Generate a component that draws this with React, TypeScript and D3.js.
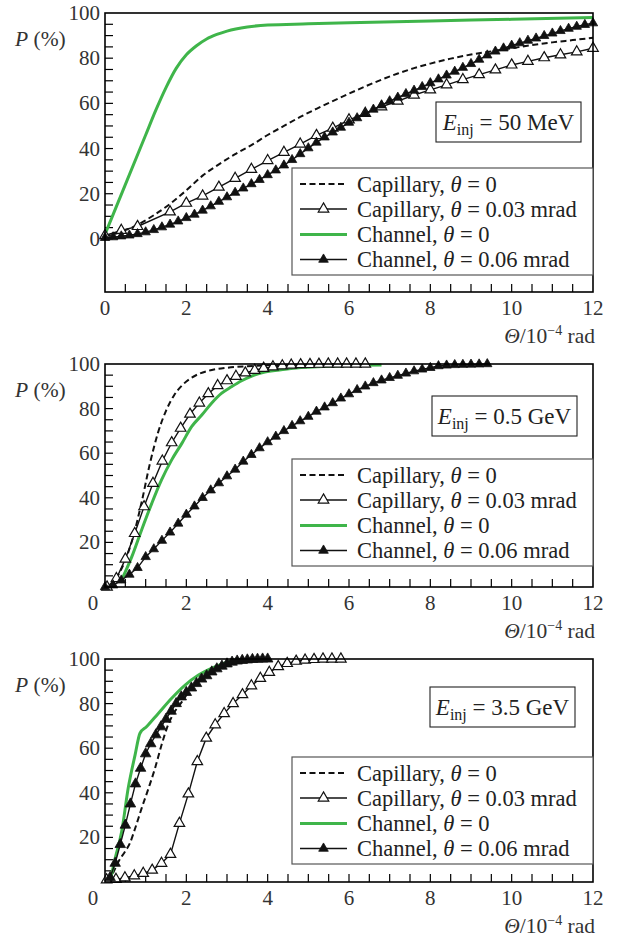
import React from 'react';
import * as d3 from 'd3';

type Pt = [number, number];

const GREEN = '#3fb54a';
const FONT = '"Liberation Serif", "DejaVu Serif", serif';

const X_MAJOR = [0, 2, 4, 6, 8, 10, 12];
const Y_MAJOR = [0, 20, 40, 60, 80, 100];

// ---------- Panel 1: E_inj = 50 MeV ----------
const p1CapillaryFlat: Pt[] = [[0,1],[0.4,3.2],[0.8,6.2],[1.2,10.5],[1.6,15.5],[2,21.5],[2.4,28],[2.8,33],[3.2,37.5],[3.6,41.5],[4,46],[4.4,50],[4.8,54],[5.2,57.6],[5.6,61],[6,64.3],[6.4,67.5],[6.8,70.5],[7.2,73.2],[7.6,75.6],[8,77.6],[8.5,79.8],[9,81.6],[9.5,83],[10,84.4],[10.5,85.8],[11,87],[11.5,88],[12,89]];
const p1CapillaryTilt: Pt[] = [[0,1.5],[0.4,3.8],[0.8,5.5],[1.6,12],[2,15.8],[2.4,19],[2.8,22.9],[3.2,26.8],[3.6,30.8],[4,34.7],[4.4,38.3],[4.8,42],[5.2,45.8],[5.6,49],[6,52.7],[6.4,55.6],[6.8,58.5],[7.2,61],[7.6,63.7],[8,66],[8.4,68.2],[8.8,70.5],[9.2,72.7],[9.6,74.8],[10,77],[10.4,78.6],[10.8,80.2],[11.2,81.5],[11.6,82.8],[12,84.4]];
const p1ChannelFlat: Pt[] = [[0,2],[0.5,24],[1,46],[1.25,57],[1.5,67],[1.75,75.5],[2,81.5],[2.25,85.5],[2.5,88.5],[2.75,90.5],[3,92],[3.5,93.8],[4,94.7],[5,95.2],[6,95.7],[8,96.5],[10,97.2],[12,98]];
const p1ChannelTilt: Pt[] = [[0,0.5],[0.2,0.8],[0.4,1.2],[0.6,1.6],[0.8,2.2],[1,3],[1.2,4],[1.4,5.2],[1.6,6.4],[1.8,7.8],[2,9.3],[2.2,10.8],[2.4,12.6],[2.6,14.5],[2.8,16.5],[3,18.5],[3.2,20.5],[3.4,22.4],[3.6,24.3],[3.8,26.2],[4,28.3],[4.2,30.4],[4.4,32.6],[4.6,35],[4.8,37.6],[5,40.2],[5.2,42.7],[5.4,45],[5.6,47.2],[5.8,49.3],[6,51.5],[6.2,53.5],[6.4,55.4],[6.6,57.3],[6.8,59.2],[7,61],[7.2,62.6],[7.4,64.2],[7.6,65.7],[7.8,67.3],[8,69],[8.2,70.7],[8.4,72.4],[8.6,74.1],[8.8,75.8],[9,77.5],[9.2,79.4],[9.4,81.3],[9.6,83],[9.8,84.4],[10,85.6],[10.2,86.7],[10.4,87.8],[10.6,88.8],[10.8,89.9],[11,91],[11.2,92.1],[11.4,93.1],[11.6,94],[11.8,94.8],[12,95.5]];

// ---------- Panel 2: E_inj = 0.5 GeV ----------
const p2CapillaryFlat: Pt[] = [[0.15,0],[0.3,4.5],[0.5,12],[0.7,23],[0.9,38],[1.1,55],[1.3,69],[1.5,79],[1.7,86],[1.9,90.5],[2.1,93.5],[2.3,95.5],[2.6,97.2],[3,98.3],[3.5,99],[4,99.4],[5,99.7],[6.4,100]];
const p2CapillaryTilt: Pt[] = [[0.05,0],[0.28,3.8],[0.5,12.5],[0.73,24],[0.96,36],[1.18,46.5],[1.41,56.5],[1.64,64.7],[1.86,71.2],[2.09,77.5],[2.32,82.5],[2.54,86.7],[2.77,90.3],[3,92.5],[3.22,94.5],[3.45,96],[3.68,97.2],[3.9,98.1],[4.13,98.7],[4.36,99.2],[4.58,99.5],[4.81,99.7],[5.04,99.8],[5.26,99.9],[5.49,100],[5.72,100],[5.94,100],[6.17,100],[6.4,100]];
const p2ChannelFlat: Pt[] = [[0.38,2],[0.66,13.6],[0.9,25.6],[1.15,37.5],[1.39,48],[1.64,57],[1.89,64.4],[2.13,71.9],[2.38,77.1],[2.62,82.4],[2.87,86.9],[3.11,89.8],[3.36,92.5],[3.61,94.6],[3.93,96.4],[4.43,97.6],[4.92,98.5],[5.5,99],[6.2,99.4],[6.8,99.6]];
const p2ChannelTilt: Pt[] = [[0,0],[0.2,0.8],[0.4,3],[0.6,5.6],[0.8,8.6],[1,13.5],[1.2,17],[1.4,20.8],[1.6,24.5],[1.8,28.5],[2,32.5],[2.2,36.2],[2.4,40],[2.6,43.4],[2.8,46.6],[3,49.7],[3.2,52.7],[3.4,56.3],[3.6,59.3],[3.8,62.3],[4,65],[4.2,67.5],[4.4,70],[4.6,72.3],[4.8,74.4],[5,76.4],[5.2,78.7],[5.4,80.6],[5.6,82.5],[5.8,84.6],[6,86.5],[6.2,88.4],[6.4,90],[6.6,91.5],[6.8,92.7],[7,93.8],[7.2,94.8],[7.4,95.8],[7.6,96.8],[7.8,97.6],[8,98.3],[8.2,99.1],[8.4,99.4],[8.6,99.6],[8.8,99.7],[9,99.8],[9.2,99.9],[9.4,100]];

// ---------- Panel 3: E_inj = 3.5 GeV ----------
const p3CapillaryFlat: Pt[] = [[0.1,0],[0.16,2.4],[0.33,9.1],[0.49,13.6],[0.61,17.3],[0.74,24],[0.9,33],[1.07,42],[1.23,51],[1.39,61.4],[1.52,68.9],[1.64,74],[1.89,80.8],[2.13,86.9],[2.46,92],[2.79,96],[3.11,98.8],[3.44,100]];
const p3CapillaryTilt: Pt[] = [[0.04,1],[0.27,1.2],[0.49,1.9],[0.72,2.8],[0.94,3.9],[1.16,5.3],[1.39,8.4],[1.61,12.4],[1.83,26.3],[2.05,39.5],[2.27,54],[2.49,64.5],[2.71,70.5],[2.93,75.5],[3.15,80],[3.38,84],[3.6,88],[3.82,91.3],[4.04,94],[4.26,96.6],[4.48,98],[4.7,99],[4.92,99.5],[5.14,99.8],[5.36,100],[5.58,100],[5.8,100]];
const p3ChannelFlat: Pt[] = [[0.12,0],[0.25,10.6],[0.41,22.6],[0.57,42],[0.74,57],[0.86,66.7],[1.02,69.6],[1.31,75.6],[1.64,82.4],[1.97,88.3],[2.3,92.8],[2.7,96.5],[3.11,99.1],[3.3,100]];
const p3ChannelTilt: Pt[] = [[0.125,2],[0.25,8.4],[0.375,16.8],[0.5,25.5],[0.625,35],[0.75,44],[0.875,51],[1,57.5],[1.125,62],[1.25,66],[1.375,69.6],[1.5,73],[1.625,76.6],[1.75,80],[1.875,83],[2,85],[2.125,87],[2.25,89],[2.375,91],[2.5,92.5],[2.625,94.2],[2.75,95.6],[2.875,96.8],[3,97.8],[3.125,98.6],[3.25,99.1],[3.375,99.4],[3.5,99.6],[3.625,99.8],[3.75,99.9],[3.875,100],[4,100]];

const LEGEND_LABELS = [
  ['Capillary, ', ' = 0'],
  ['Capillary, ', ' = 0.03 mrad'],
  ['Channel, ', ' = 0'],
  ['Channel, ', ' = 0.06 mrad'],
];

const ENERGY_LABELS = ['50 MeV', '0.5 GeV', '3.5 GeV'];

interface PanelCfg {
  top: number; bottom: number; yMin: number;
  capFlat: Pt[]; capTilt: Pt[]; chFlat: Pt[]; chTilt: Pt[];
  energy: string; legendTop: number; boxRight: number; boxTop: number; zeroOnY: boolean; filledSize: number;
}

const PANELS: PanelCfg[] = [
  { top: 13, bottom: 292, yMin: -23.5, capFlat: p1CapillaryFlat, capTilt: p1CapillaryTilt, chFlat: p1ChannelFlat, chTilt: p1ChannelTilt, energy: ENERGY_LABELS[0], legendTop: 168, boxRight: 581, boxTop: 102, zeroOnY: true, filledSize: 38 },
  { top: 364, bottom: 587, yMin: 0, capFlat: p2CapillaryFlat, capTilt: p2CapillaryTilt, chFlat: p2ChannelFlat, chTilt: p2ChannelTilt, energy: ENERGY_LABELS[1], legendTop: 459, boxRight: 577, boxTop: 396, zeroOnY: false, filledSize: 38 },
  { top: 659, bottom: 882, yMin: 0, capFlat: p3CapillaryFlat, capTilt: p3CapillaryTilt, chFlat: p3ChannelFlat, chTilt: p3ChannelTilt, energy: ENERGY_LABELS[2], legendTop: 757, boxRight: 575, boxTop: 687, zeroOnY: false, filledSize: 48 },
];

const LEFT = 105;
const RIGHT = 593;
const OPEN_SIZE = 48;

const triOpen = d3.symbol().type(d3.symbolTriangle).size(OPEN_SIZE)() as string;
const triLegendFilled = d3.symbol().type(d3.symbolTriangle).size(40)() as string;

function Panel({ cfg }: { cfg: PanelCfg }) {
  const x = d3.scaleLinear().domain([0, 12]).range([LEFT, RIGHT]);
  const y = d3.scaleLinear().domain([cfg.yMin, 100]).range([cfg.bottom, cfg.top]);
  const smooth = d3.line<Pt>().x(d => x(d[0])).y(d => y(d[1])).curve(d3.curveMonotoneX);
  const straight = d3.line<Pt>().x(d => x(d[0])).y(d => y(d[1]));
  const triFilled = d3.symbol().type(d3.symbolTriangle).size(cfg.filledSize)() as string;

  const xMinor = d3.range(0.5, 12, 0.5);
  const yMinor = d3.range(5, 100, 5);

  const lx = 300, lx2 = 347, tx = 357;
  const rowDy = [16, 41, 66.5, 91.5];
  const boxW = 145, boxH = 40;

  return (
    <g>
      {xMinor.map(v => (
        <line key={'xt' + v} x1={x(v)} x2={x(v)} y1={cfg.bottom} y2={cfg.bottom - 8} stroke="#000" strokeWidth={1.2} />
      ))}
      {yMinor.map(v => (
        <line key={'yt' + v} x1={LEFT} x2={LEFT + 8} y1={y(v)} y2={y(v)} stroke="#000" strokeWidth={1.2} />
      ))}
      {cfg.zeroOnY && <line x1={LEFT} x2={LEFT + 8} y1={y(0)} y2={y(0)} stroke="#000" strokeWidth={1.2} />}

      <path d={smooth(cfg.capFlat) || ''} fill="none" stroke="#111" strokeWidth={2} strokeDasharray="6,3.5" />
      <path d={smooth(cfg.chFlat) || ''} fill="none" stroke={GREEN} strokeWidth={3} />
      <path d={straight(cfg.capTilt) || ''} fill="none" stroke="#111" strokeWidth={1.4} />
      {cfg.capTilt.map((d, i) => (
        <path key={'o' + i} d={triOpen} transform={`translate(${x(d[0])},${y(d[1])})`} fill="#fff" stroke="#111" strokeWidth={1.2} />
      ))}
      <path d={straight(cfg.chTilt) || ''} fill="none" stroke="#111" strokeWidth={1.4} />
      {cfg.chTilt.map((d, i) => (
        <path key={'f' + i} d={triFilled} transform={`translate(${x(d[0])},${y(d[1])})`} fill="#111" stroke="#111" strokeWidth={0.8} />
      ))}

      <rect x={LEFT} y={cfg.top} width={RIGHT - LEFT} height={cfg.bottom - cfg.top} fill="none" stroke="#000" strokeWidth={1.6} />

      <rect x={292} y={cfg.legendTop} width={RIGHT - 292} height={107} fill="#fff" stroke="#555" strokeWidth={1.2} />
      {LEGEND_LABELS.map((lab, i) => {
        const ry = cfg.legendTop + rowDy[i];
        return (
          <g key={'lg' + i}>
            {i === 0 && <line x1={lx} x2={lx2} y1={ry} y2={ry} stroke="#111" strokeWidth={2} strokeDasharray="6,3.5" />}
            {i === 1 && <>
              <line x1={lx} x2={lx2} y1={ry} y2={ry} stroke="#111" strokeWidth={1.4} />
              <path d={triOpen} transform={`translate(${(lx + lx2) / 2},${ry})`} fill="#fff" stroke="#111" strokeWidth={1.2} />
            </>}
            {i === 2 && <line x1={lx} x2={lx2} y1={ry} y2={ry} stroke={GREEN} strokeWidth={3} />}
            {i === 3 && <>
              <line x1={lx} x2={lx2} y1={ry} y2={ry} stroke="#111" strokeWidth={1.4} />
              <path d={triLegendFilled} transform={`translate(${(lx + lx2) / 2},${ry})`} fill="#111" stroke="#111" strokeWidth={0.8} />
            </>}
            <text x={tx} y={ry + 7.5} fontFamily={FONT} fontSize={22.5} fill="#222">
              {lab[0]}<tspan fontStyle="italic">θ</tspan>{lab[1]}
            </text>
          </g>
        );
      })}

      <rect x={cfg.boxRight - boxW} y={cfg.boxTop} width={boxW} height={boxH} fill="#fff" stroke="#222" strokeWidth={1.1} />
      <text x={cfg.boxRight - boxW / 2} y={cfg.boxTop + 28} textAnchor="middle" fontFamily={FONT} fontSize={23} fill="#222">
        <tspan fontStyle="italic">E</tspan><tspan fontSize={16} dy={5}>inj</tspan><tspan dy={-5}>{' = ' + cfg.energy}</tspan>
      </text>

      {Y_MAJOR.filter(v => v > 0 || cfg.zeroOnY).map(v => (
        <text key={'yl' + v} x={100} y={y(v) + 7} textAnchor="end" fontFamily={FONT} fontSize={21} fill="#333">{v}</text>
      ))}
      {X_MAJOR.map(v => {
        const isCorner = v === 0 && !cfg.zeroOnY;
        return (
          <text key={'xl' + v} x={isCorner ? 93 : x(v)} y={cfg.bottom + 23} textAnchor="middle" fontFamily={FONT} fontSize={21} fill="#333">{v}</text>
        );
      })}

      <text x={15} y={cfg.top + 33} fontFamily={FONT} fontSize={21.5} fill="#333">
        <tspan fontStyle="italic">P</tspan> (%)
      </text>
      <text x={595} y={cfg.bottom + 51} textAnchor="end" fontFamily={FONT} fontSize={21.5} fill="#333">
        <tspan fontStyle="italic">Θ</tspan>/10<tspan fontSize={14} dy={-8}>−4</tspan><tspan dy={8}> rad</tspan>
      </text>
    </g>
  );
}

export default function App() {
  return (
    <svg width={626} height={938} style={{ position: 'absolute', left: 0, top: 0, background: '#fff' }}>
      <rect width={626} height={938} fill="#fff" />
      {PANELS.map((p, i) => <Panel key={i} cfg={p} />)}
    </svg>
  );
}
